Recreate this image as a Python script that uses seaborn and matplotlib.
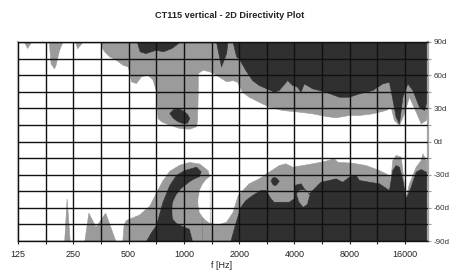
import numpy as np
import matplotlib
matplotlib.use("Agg")
import matplotlib.pyplot as plt
import seaborn as sns

# angle (deg) where each shade starts, read off per frequency (Hz)
# upper half: light grey region hanging from +90
top_gray_hz = [125, 135, 140, 147, 184, 188, 196, 200, 209, 218, 256, 262, 280,
               354, 360, 368, 392, 426, 463, 493, 504, 515, 548, 584, 634, 675,
               705, 719, 750, 833, 944, 1070, 1164, 1180, 1188, 1192, 1265, 1376,
               1497, 1593, 1698, 1843, 1950, 2075, 2254, 2555, 2896, 3428, 4222,
               4996, 5905, 6694, 7912, 8969, 10614, 12540, 13350, 13920, 14820,
               15780, 16800, 18280, 19470, 20730, 21330]
top_gray_deg = [90, 90, 84.6, 90, 90, 70.7, 66.2, 69.2, 82.8, 90, 90, 84.3, 90,
                90, 84, 81.6, 77.1, 74.0, 69.5, 68.0, 63.5, 54.5, 52.9, 59.0, 60.4, 55.9,
                45.4, 21.3, 18.3, 15.2, 12.2, 11.6, 13.8, 20, 40, 62.0, 65.0, 63.5,
                60.4, 57.4, 54.5, 55.5, 54, 45, 40.5, 36, 31.5, 28.5, 27,
                25.5, 23.1, 21.9, 24, 24, 25.5, 28.5, 31.5, 19.4, 14.9,
                25.5, 40.5, 27, 16.5, 19.4, 28.5]

# upper half: dark region hanging from +90
top_dark_hz = [125, 555, 574, 617, 703, 770, 856, 944, 1497, 1593, 1698, 1725,
               1843, 1924, 1988, 2161, 2352, 2555, 2896, 3084, 3285, 3650, 3886,
               4138, 4314, 4495, 4996, 5905, 6980, 7912, 8969, 10614, 12033, 13070,
               13350, 14220, 14820, 15470, 16470, 17540, 19050, 20280, 21330]
top_dark_deg = [90, 90, 81.6, 80, 83, 81.6, 84.6, 90, 90, 68, 80, 90,
                90, 77, 75.3, 64.7, 55.6, 51.1, 47.2, 45, 46.6, 55.6, 51.1,
                49.6, 45, 52.6, 48.1, 45, 40.5, 40.5, 43.6, 46.6, 52.6, 54.1,
                46.6, 22.4, 16.5, 40.5, 52.6, 46.6, 31.5, 28.5, 40.5]

# dark island near 1 kHz, upper half
blob_hz = [833, 870, 920, 980, 1040, 1070]
blob_hi = [25.8, 29, 30, 28.5, 25, 21.3]
blob_lo = [25.8, 21.5, 18.5, 16.8, 17, 21.3]

# lower half: light grey region rising from -90
bot_gray_hz = [125, 223, 230, 239, 287, 302, 330, 373, 424, 462, 470, 483, 571,
               648, 705, 765, 833, 944, 1070, 1213, 1347, 1376, 1382, 1497, 1698,
               1843, 1963, 2254, 2555, 2896, 3285, 3572, 3886, 4405, 5206, 5905,
               6553, 6838, 8254, 9755, 11530, 12540, 13350, 13640, 14220, 15140,
               15780, 16120, 16800, 18280, 19470, 19880, 20730, 21330]
bot_gray_deg = [-90, -90, -51.4, -90, -90, -64.4, -77, -64.4, -90, -90, -75, -71, -66,
                -58, -46, -35, -26.5, -21, -18.5, -20, -26, -31.8, -73, -75.5, -72.5,
                -63.5, -48.4, -37.8, -33.3, -27.3, -21.3, -19.7, -22.8, -21.3, -19.2, -17.3,
                -15.2, -18.3, -19.2, -21.3, -25.8, -28.8, -31.8, -16.7, -12.2, -13.7,
                -37.8, -49.9, -37.8, -22.8, -16.7, -10.7, -16.7, -16.7]

# lower half: dark region rising from -90
bot_dark_hz = [125, 621, 662, 705, 765, 833, 905, 1005, 1164, 1240, 1252, 1791,
               1906, 2030, 2161, 2352, 2610, 2779, 2960, 3084, 3724, 3964, 3990,
               4314, 4495, 4786, 4996, 5544, 6153, 6694, 7282, 7912, 8604, 8969,
               10170, 11530, 13070, 13640, 14220, 14820, 15470, 16120, 17160,
               18280, 19470, 20730, 21330]
bot_dark_deg = [-90, -90, -82, -75.5, -54.5, -39.3, -30.3, -25.8, -22.8, -27.3, -90, -90,
                -73.7, -59, -53, -48.4, -43.9, -43.9, -51.4, -54.5, -54.5, -51.4, -39.3,
                -37.8, -42.3, -46.9, -43.9, -36.4, -34.8, -33.3, -36.4, -31.8, -30.3, -34.8,
                -36.4, -37.8, -43.9, -25.8, -21.3, -22.8, -34.8, -51.4, -40.9,
                -27.3, -24.9, -27.3, -28]

# light grey pocket under the dark curl around 1 kHz
curl_hz = [860, 868, 905, 964, 1070, 1116, 1164, 1213, 1240, 1252]
curl_lo = [-62, -69.5, -73, -75.5, -78.5, -90, -90, -90, -90, -90]
curl_hi = [-62, -54.5, -48, -42.3, -36.4, -34.5, -33, -31.8, -27.3, -27.3]

# white bay inside the lower grey around 1.3 kHz
bay_hz = [1188, 1213, 1265, 1320, 1376]
bay_hi = [-54.5, -43.9, -37.8, -34, -31.8]
bay_lo = [-54.5, -63.5, -68, -71, -73]

# small dark island near 3.1 kHz, light grey pocket near 4.4 kHz
isl_hz = [2960, 3034, 3110, 3190, 3285]
isl_hi = [-35, -32.5, -32, -33, -35.5]
isl_lo = [-35, -38.5, -39.5, -38.5, -35.5]
pock_hz = [4100, 4222, 4440, 4650, 4786]
pock_hi = [-47, -44, -43.5, -45, -48]
pock_lo = [-47, -54, -58.5, -56, -48]

grid_hz = 125 * 2 ** (np.arange(15) / 2)
octave_labels = ['125', '250', '500', '1000', '2000', '4000', '8000', '16000']
angle_ticks = np.arange(-90, 91, 15)

sns.set_theme(style="white")
plt.rcParams['font.family'] = ['Liberation Sans', 'DejaVu Sans']

light = '#9b9b9b'
dark = '#303030'

fig = plt.figure(figsize=(4.52, 2.72), dpi=100)
ax = fig.add_axes([18 / 452, 31 / 272, 410 / 452, 199 / 272])


def band(hz, lo, hi, color):
    ax.fill_between(hz, lo, hi, color=color, linewidth=0.4, edgecolor=color)


band(top_gray_hz, top_gray_deg, 90, light)
band(top_dark_hz, top_dark_deg, 90, dark)
band(blob_hz, blob_lo, blob_hi, dark)
band(bot_gray_hz, -90, bot_gray_deg, light)
band(bot_dark_hz, -90, bot_dark_deg, dark)
band(curl_hz, curl_lo, curl_hi, light)
band(bay_hz, bay_lo, bay_hi, 'white')
band(isl_hz, isl_lo, isl_hi, dark)
band(pock_hz, pock_lo, pock_hi, light)

ax.set_xscale('log', base=2)
ax.set_xlim(125, 21330)
ax.set_ylim(-90, 90)
ax.set_xticks(grid_hz)
ax.set_xticklabels([octave_labels[i // 2] if i % 2 == 0 else '' for i in range(len(grid_hz))])
ax.xaxis.set_minor_locator(matplotlib.ticker.NullLocator())
ax.yaxis.tick_right()
ax.set_yticks(angle_ticks)
ax.set_yticklabels([f'{v}d' if v % 30 == 0 else '' for v in angle_ticks])

ax.set_axisbelow(False)
ax.grid(True, color='#111111', linewidth=1.0)
ax.tick_params(axis='x', bottom=True, length=2.5, width=0.8, color='#222222',
               labelsize=6.5, labelcolor='#222222', pad=4)
ax.tick_params(axis='y', right=True, left=False, length=2.5, width=0.8, color='#999999',
               labelsize=5.8, labelcolor='#333333', pad=1.5)

for side in ['top', 'bottom']:
    ax.spines[side].set_color('#111111')
    ax.spines[side].set_linewidth(1.0)
ax.spines['left'].set_color('#b5b5b5')
ax.spines['left'].set_linewidth(1.6)
ax.spines['right'].set_color('#a5a5a5')
ax.spines['right'].set_linewidth(1.6)

fig.text(0.508, 1 - 16 / 272, 'CT115 vertical - 2D Directivity Plot', ha='center', va='center',
         fontsize=6.6, fontweight='bold', color='#222222')
fig.text(222 / 452, 1 - 266 / 272, 'f [Hz]', ha='center', va='center', fontsize=6.5, color='#222222')

fig.savefig('out.png', dpi=100)
